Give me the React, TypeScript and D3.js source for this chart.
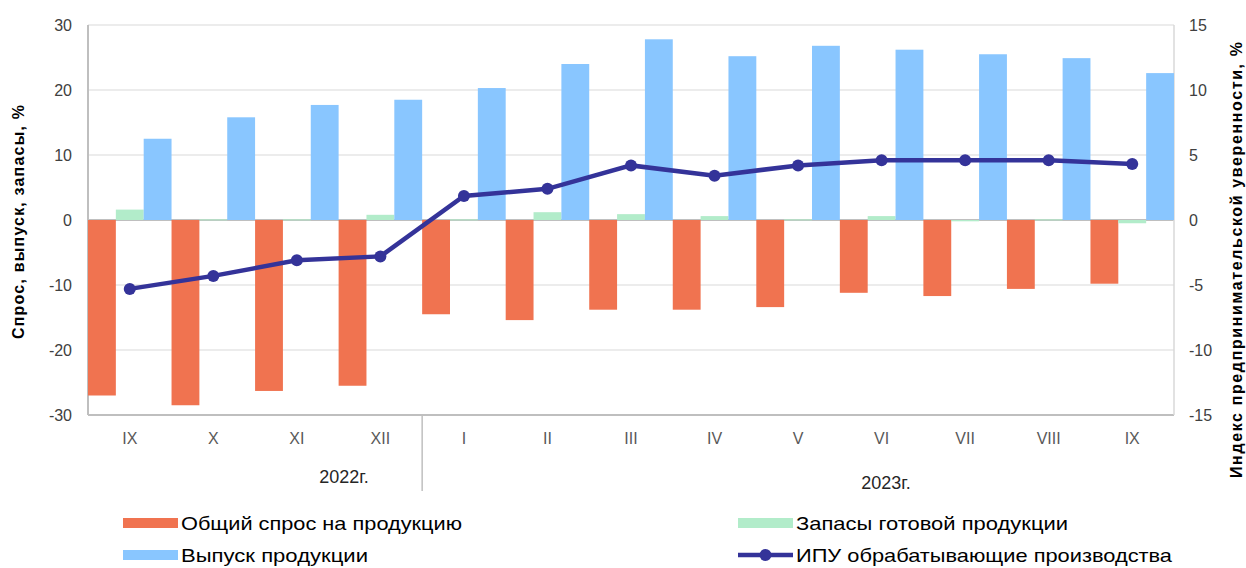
import React, { useEffect, useRef } from 'react';
import * as d3 from 'd3';

const months = ['IX', 'X', 'XI', 'XII', 'I', 'II', 'III', 'IV', 'V', 'VI', 'VII', 'VIII', 'IX'];
const years = [
  { label: '2022г.', from: 0, to: 4 },
  { label: '2023г.', from: 4, to: 13 },
];
const demand = [-27, -28.5, -26.3, -25.5, -14.5, -15.4, -13.8, -13.8, -13.4, -11.2, -11.7, -10.6, -9.8];
const stocks = [1.6, 0.1, 0.1, 0.8, 0.1, 1.2, 0.9, 0.6, 0.1, 0.6, -0.2, 0.1, -0.5];
const output = [12.5, 15.8, 17.7, 18.5, 20.3, 24, 27.8, 25.2, 26.8, 26.2, 25.5, 24.9, 22.6];
const ipu = [-5.3, -4.3, -3.1, -2.8, 1.85, 2.4, 4.2, 3.4, 4.2, 4.6, 4.6, 4.6, 4.3];
const leftTicks = [30, 20, 10, 0, -10, -20, -30];
const rightTicks = [15, 10, 5, 0, -5, -10, -15];

const colors = { demand: '#f07350', stocks: '#b2ecca', output: '#89c6ff', ipu: '#343399' };

const App = () => {
  const ref = useRef<SVGSVGElement>(null);

  useEffect(() => {
    const svg = d3.select(ref.current);
    svg.selectAll('*').remove();

    const left = 88, right = 1174, top = 25, bottom = 415;
    const x = d3.scaleBand().domain(months.map((m, i) => i + '')).range([left, right]).padding(0);
    const yL = d3.scaleLinear().domain([-30, 30]).range([bottom, top]);
    const yR = d3.scaleLinear().domain([-15, 15]).range([bottom, top]);
    const bw = x.bandwidth() / 3;
    const font = 'Liberation Sans, Arial, sans-serif';

    // grid
    svg.append('g')
      .selectAll('line')
      .data(leftTicks)
      .enter()
      .append('line')
      .attr('x1', left).attr('x2', right)
      .attr('y1', (d) => yL(d)).attr('y2', (d) => yL(d))
      .attr('stroke', (d) => (d === 0 || d === -30 ? '#bfbfbf' : '#d9d9d9'))
      .attr('stroke-width', (d) => (d === 0 || d === -30 ? 2 : 1));

    svg.append('line').attr('x1', left).attr('x2', left).attr('y1', top).attr('y2', bottom)
      .attr('stroke', '#bfbfbf').attr('stroke-width', 2);
    svg.append('line').attr('x1', right).attr('x2', right).attr('y1', top).attr('y2', bottom)
      .attr('stroke', '#d9d9d9').attr('stroke-width', 1.5);

    // bars
    const series = [
      { data: demand, color: colors.demand, off: 0 },
      { data: stocks, color: colors.stocks, off: 1 },
      { data: output, color: colors.output, off: 2 },
    ];
    series.forEach((s) => {
      svg.append('g')
        .selectAll('rect')
        .data(s.data)
        .enter()
        .append('rect')
        .attr('x', (d, i) => (x(i + '') as number) + s.off * bw)
        .attr('width', bw)
        .attr('y', (d) => Math.min(yL(d), yL(0)))
        .attr('height', (d) => Math.max(Math.abs(yL(d) - yL(0)), 1))
        .attr('fill', s.color);
    });

    // line
    const line = d3.line<number>()
      .x((d, i) => (x(i + '') as number) + x.bandwidth() / 2)
      .y((d) => yR(d));
    svg.append('path').datum(ipu).attr('d', line)
      .attr('fill', 'none').attr('stroke', colors.ipu).attr('stroke-width', 4.5);
    svg.append('g').selectAll('circle').data(ipu).enter().append('circle')
      .attr('cx', (d, i) => (x(i + '') as number) + x.bandwidth() / 2)
      .attr('cy', (d) => yR(d)).attr('r', 6).attr('fill', colors.ipu);

    // left ticks
    svg.append('g').selectAll('text').data(leftTicks).enter().append('text')
      .attr('x', 72).attr('y', (d) => yL(d) + 6)
      .attr('text-anchor', 'end')
      .style('font-family', font).style('font-size', '16px').style('fill', '#404040')
      .text((d) => d);
    svg.append('g').selectAll('text').data(rightTicks).enter().append('text')
      .attr('x', 1189).attr('y', (d) => yR(d) + 6)
      .style('font-family', font).style('font-size', '16px').style('fill', '#404040')
      .text((d) => d);

    // month labels
    svg.append('g').selectAll('text').data(months).enter().append('text')
      .attr('x', (d, i) => (x(i + '') as number) + x.bandwidth() / 2)
      .attr('y', 444)
      .attr('text-anchor', 'middle')
      .style('font-family', font).style('font-size', '16px').style('fill', '#595959')
      .text((d) => d);

    // year separator
    svg.append('line')
      .attr('x1', x('4') as number).attr('x2', x('4') as number)
      .attr('y1', bottom).attr('y2', 491)
      .attr('stroke', '#bfbfbf').attr('stroke-width', 1.5);
    svg.append('text').attr('x', 344).attr('y', 483).attr('text-anchor', 'middle')
      .style('font-family', font).style('font-size', '18px').style('fill', '#262626')
      .text(years[0].label);
    svg.append('text').attr('x', 886).attr('y', 489).attr('text-anchor', 'middle')
      .style('font-family', font).style('font-size', '18px').style('fill', '#262626')
      .text(years[1].label);

    // axis titles
    svg.append('text')
      .attr('transform', 'translate(24,222) rotate(-90)')
      .attr('text-anchor', 'middle')
      .attr('textLength', 234).attr('lengthAdjust', 'spacing')
      .style('font-family', font).style('font-size', '16px').style('font-weight', '700').style('fill', '#000')
      .text('Спрос, выпуск, запасы, %');
    svg.append('text')
      .attr('transform', 'translate(1242,260) rotate(-90)')
      .attr('text-anchor', 'middle')
      .attr('textLength', 436).attr('lengthAdjust', 'spacing')
      .style('font-family', font).style('font-size', '16px').style('font-weight', '700').style('fill', '#000')
      .text('Индекс предпринимательской уверенности, %');

    // legend
    const legendFont = "'Liberation Sans Narrow', 'Liberation Sans', Arial, sans-serif";
    const legend = [
      { label: 'Общий  спрос на продукцию', color: colors.demand, x: 123, y: 523, type: 'rect', w: 281 },
      { label: 'Запасы готовой продукции', color: colors.stocks, x: 738, y: 523, type: 'rect', w: 272 },
      { label: 'Выпуск продукции', color: colors.output, x: 123, y: 555, type: 'rect', w: 187 },
      { label: 'ИПУ обрабатывающие производства', color: colors.ipu, x: 738, y: 555, type: 'line', w: 376 },
    ];
    legend.forEach((l) => {
      if (l.type === 'rect') {
        svg.append('rect').attr('x', l.x).attr('y', l.y - 5).attr('width', 55).attr('height', 10).attr('fill', l.color);
      } else {
        svg.append('line').attr('x1', l.x).attr('x2', l.x + 55).attr('y1', l.y).attr('y2', l.y)
          .attr('stroke', l.color).attr('stroke-width', 4.5);
        svg.append('circle').attr('cx', l.x + 27.5).attr('cy', l.y).attr('r', 6).attr('fill', l.color);
      }
      svg.append('text').attr('x', l.x + 58).attr('y', l.y + 7)
        .attr('textLength', l.w).attr('lengthAdjust', 'spacingAndGlyphs')
        .style('font-family', legendFont).style('font-size', '19px').style('fill', '#000')
        .text(l.label);
    });
  }, []);

  return (
    <svg ref={ref} width={1246} height={568}
      style={{ position: 'absolute', left: 0, top: 0, background: '#fff' }} />
  );
};

export default App;
